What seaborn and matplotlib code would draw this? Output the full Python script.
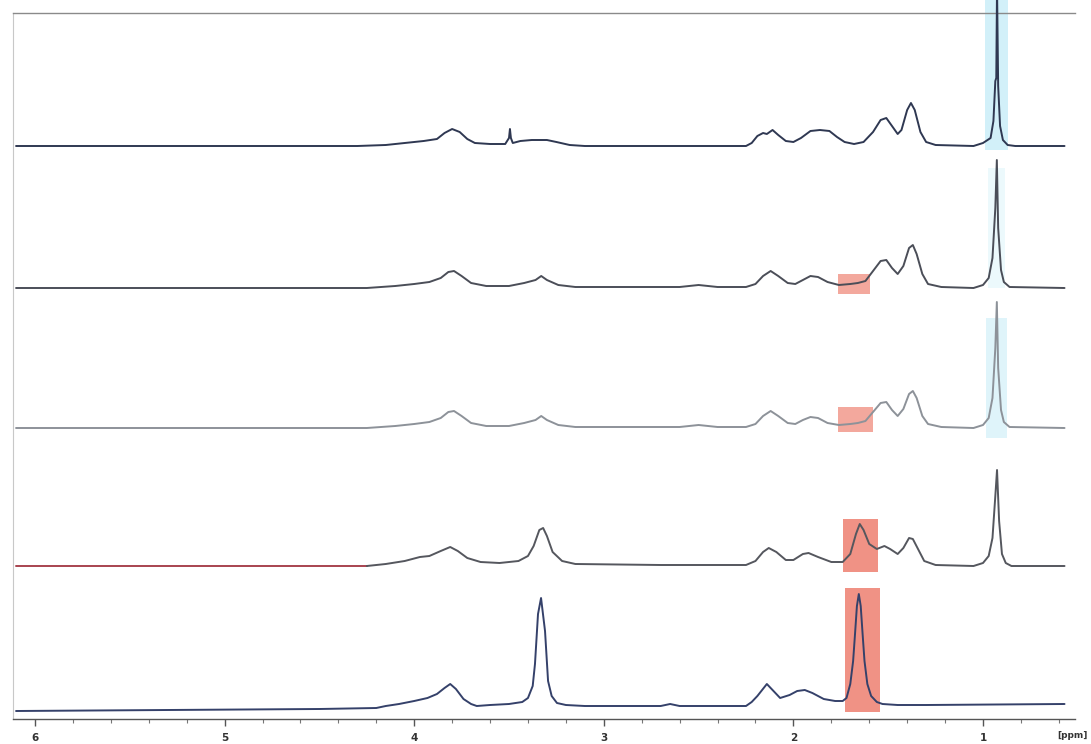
import matplotlib
matplotlib.use("Agg")
import matplotlib.pyplot as plt
from matplotlib.ticker import MultipleLocator
import numpy as np
import pandas as pd
import seaborn as sns

# ---------------- data (intensities above each trace's baseline) -------------
ppm_1 = [6.10, 4.30, 4.15, 4.05, 3.95, 3.88, 3.84, 3.80, 3.76, 3.72, 3.68, 3.60, 3.52, 3.50, 3.495, 3.49,
         3.48, 3.44, 3.38, 3.30, 3.25, 3.18, 3.10, 2.25, 2.22, 2.19, 2.16, 2.14, 2.11, 2.08, 2.04, 2.00,
         1.96, 1.91, 1.86, 1.81, 1.77, 1.73, 1.68, 1.63, 1.58, 1.54, 1.51, 1.48, 1.45, 1.43, 1.40, 1.38,
         1.36, 1.33, 1.30, 1.25, 1.05, 1.00, 0.96, 0.945, 0.935, 0.93, 0.926, 0.92, 0.91, 0.895, 0.87,
         0.83, 0.57]
int_1 = [0, 0, 1, 3, 5, 7, 13, 17, 14, 7, 3, 2, 2, 8, 17, 8,
         3, 5, 6, 6, 4, 1, 0, 0, 3, 10, 13, 12, 16, 11, 5, 4,
         8, 15, 16, 15, 9, 4, 2, 4, 14, 26, 28, 20, 12, 16, 36, 43,
         36, 14, 4, 1, 0, 3, 8, 25, 65, 68, 160, 60, 20, 6, 1,
         0, 0]

ppm_2 = [6.10, 4.25, 4.10, 4.00, 3.92, 3.86, 3.82, 3.79, 3.75, 3.70, 3.62, 3.50, 3.42, 3.36, 3.33, 3.30,
         3.24, 3.15, 2.60, 2.50, 2.40, 2.25, 2.20, 2.16, 2.12, 2.08, 2.03, 1.99, 1.95, 1.91, 1.87, 1.82,
         1.76, 1.70, 1.66, 1.62, 1.58, 1.54, 1.51, 1.48, 1.45, 1.42, 1.39, 1.37, 1.35, 1.32, 1.29, 1.22,
         1.05, 1.00, 0.97, 0.95, 0.935, 0.927, 0.92, 0.905, 0.89, 0.86, 0.57]
int_2 = [0, 0, 2, 4, 6, 10, 16, 17, 12, 5, 2, 2, 5, 8, 12, 8,
         3, 1, 1, 3, 1, 1, 4, 12, 17, 12, 5, 4, 8, 12, 11, 6,
         3, 4, 5, 7, 17, 27, 28, 20, 14, 22, 40, 43, 34, 14, 4, 1,
         0, 3, 10, 30, 80, 128, 60, 18, 6, 1, 0]

ppm_3 = [6.10, 4.25, 4.10, 4.00, 3.92, 3.86, 3.82, 3.79, 3.75, 3.70, 3.62, 3.50, 3.42, 3.36, 3.33, 3.30,
         3.24, 3.15, 2.60, 2.50, 2.40, 2.25, 2.20, 2.16, 2.12, 2.08, 2.03, 1.99, 1.95, 1.91, 1.87, 1.82,
         1.76, 1.70, 1.66, 1.62, 1.58, 1.54, 1.51, 1.48, 1.45, 1.42, 1.39, 1.37, 1.35, 1.32, 1.29, 1.22,
         1.05, 1.00, 0.97, 0.95, 0.935, 0.927, 0.92, 0.905, 0.89, 0.86, 0.57]
int_3 = [0, 0, 2, 4, 6, 10, 16, 17, 12, 5, 2, 2, 5, 8, 12, 8,
         3, 1, 1, 3, 1, 1, 4, 12, 17, 12, 5, 4, 8, 11, 10, 5,
         3, 4, 5, 7, 16, 25, 26, 18, 12, 19, 34, 37, 30, 12, 4, 1,
         0, 3, 10, 30, 80, 126, 60, 18, 6, 1, 0]

ppm_4 = [6.10, 4.25, 4.15, 4.05, 3.97, 3.92, 3.86, 3.81, 3.77, 3.72, 3.65, 3.55, 3.45, 3.40, 3.37, 3.34,
         3.32, 3.30, 3.27, 3.22, 3.15, 2.70, 2.25, 2.20, 2.16, 2.13, 2.09, 2.04, 2.00, 1.95, 1.92, 1.87,
         1.80, 1.74, 1.70, 1.67, 1.65, 1.63, 1.60, 1.56, 1.52, 1.49, 1.45, 1.42, 1.39, 1.37, 1.34, 1.31,
         1.25, 1.05, 1.00, 0.97, 0.95, 0.935, 0.926, 0.915, 0.90, 0.88, 0.85, 0.57]
int_4 = [0, 0, 2, 5, 9, 10, 15, 19, 15, 8, 4, 3, 5, 10, 20, 36,
         38, 30, 14, 5, 2, 1, 1, 5, 14, 18, 14, 6, 6, 12, 13, 9,
         4, 4, 12, 32, 42, 36, 22, 17, 20, 17, 12, 18, 28, 27, 16, 5,
         1, 0, 3, 10, 28, 70, 96, 45, 12, 3, 0, 0]

ppm_5 = [6.10, 4.50, 4.20, 4.15, 4.08, 4.00, 3.93, 3.88, 3.84, 3.81, 3.78, 3.74, 3.70, 3.67, 3.60, 3.50,
         3.43, 3.40, 3.375, 3.363, 3.347, 3.331, 3.31, 3.294, 3.275, 3.247, 3.20, 3.10, 2.70, 2.65, 2.60,
         2.25, 2.22, 2.19, 2.14, 2.10, 2.07, 2.02, 1.98, 1.94, 1.90, 1.84, 1.78, 1.74, 1.72, 1.70, 1.685,
         1.675, 1.665, 1.655, 1.645, 1.635, 1.625, 1.61, 1.59, 1.56, 1.53, 1.45, 1.30, 0.57]
int_5 = [-5, -3, -2, 0, 2, 5, 8, 12, 18, 22, 17, 7, 2, 0, 1, 2,
         4, 8, 20, 42, 92, 108, 75, 25, 10, 3, 1, 0, 0, 2, 0,
         0, 4, 10, 22, 14, 8, 11, 15, 16, 13, 7, 5, 5, 8, 22, 45,
         72, 100, 112, 100, 72, 45, 22, 10, 4, 2, 1, 1, 2]

trace_names = ["t1", "t2", "t3", "t4", "t5"]
tick_labels = ["6", "5", "4", "3", "2", "1"]
tick_values = [6, 5, 4, 3, 2, 1]

# highlighted regions: (trace, ppm_left, ppm_right, low, high) intensity relative to baseline
red_boxes = [("t2", 1.765, 1.596, -6, 14),
             ("t3", 1.765, 1.580, -4, 21),
             ("t4", 1.738, 1.555, -6, 47),
             ("t5", 1.728, 1.543, -6, 118)]
cyan_bands = [("t1", 0.99, 0.87, -4, 170, 0.85),
              ("t2", 0.975, 0.885, 0, 120, 0.35),
              ("t3", 0.985, 0.875, -10, 110, 0.6)]

# ---------------- layout / styling ----------------
W, H = 1091, 744
AX_L, AX_R, AX_T, AX_B = 13, 1075, 13, 719
PX_PER_PPM = 189.6
PPM_AT_35 = 6.0
baseline_px = {"t1": 146, "t2": 288, "t3": 428, "t4": 566, "t5": 706}
offset = {k: AX_B - v for k, v in baseline_px.items()}

colors = {"t1": "#2f3852", "t2": "#4b4e58", "t3": "#8d9299",
          "t4a": "#a8434f", "t4b": "#55575e", "t5": "#35416a"}

sns.set_theme(style="white")
plt.rcParams["font.family"] = ["DejaVu Sans"]

fig = plt.figure(figsize=(W / 100, H / 100), dpi=100)
ax = fig.add_axes([AX_L / W, (H - AX_B) / H, (AX_R - AX_L) / W, (AX_B - AX_T) / H])

rows = []
series = {"t1": (ppm_1, int_1), "t2": (ppm_2, int_2), "t3": (ppm_3, int_3),
          "t4": (ppm_4, int_4), "t5": (ppm_5, int_5)}
for name in trace_names:
    p, v = series[name]
    for i, (pp, vv) in enumerate(zip(p, v)):
        y = vv + offset[name]
        if name == "t4":
            if pp >= 4.25:
                rows.append({"seg": "t4a", "ppm": pp, "y": y})
            if pp <= 4.25:
                rows.append({"seg": "t4b", "ppm": pp, "y": y})
        else:
            rows.append({"seg": name, "ppm": pp, "y": y})
df = pd.DataFrame(rows)

# highlight boxes behind traces
for name, a, b, lo, hi in red_boxes:
    ax.fill_between([a, b], offset[name] + lo, offset[name] + hi, color="#ec6e5c",
                    alpha=0.75 if name in ("t4", "t5") else 0.6, lw=0, zorder=1)
for name, a, b, lo, hi, al in cyan_bands:
    ax.fill_between([a, b], offset[name] + lo, offset[name] + hi, color="#cbeef8",
                    alpha=al, lw=0, zorder=1, clip_on=False)

sns.lineplot(data=df, x="ppm", y="y", hue="seg", palette=colors, sort=False,
             estimator=None, units="seg", legend=False, linewidth=1.4, ax=ax, zorder=3)
for ln in ax.lines:
    ln.set_clip_on(False)
    ln.set_solid_joinstyle("round")

x_left = PPM_AT_35 + (35 - AX_L) / PX_PER_PPM
x_right = PPM_AT_35 - (AX_R - 35) / PX_PER_PPM
ax.set_xlim(x_left, x_right)
ax.set_ylim(0, AX_B - AX_T)

ax.set_xticks(tick_values)
ax.set_xticklabels(tick_labels, fontsize=7.5, fontweight="bold", color="#333333")
ax.xaxis.set_minor_locator(MultipleLocator(0.2))
ax.tick_params(axis="x", which="major", direction="out", length=5, width=1, color="#555555", pad=5, bottom=True)
ax.tick_params(axis="x", which="minor", direction="out", length=3, width=0.8, color="#777777", bottom=True)
ax.set_yticks([])
ax.set_xlabel("")
ax.set_ylabel("")

ax.spines["right"].set_visible(False)
ax.spines["top"].set_color("#8a8a8a")
ax.spines["top"].set_linewidth(1.0)
ax.spines["left"].set_color("#c8c8c8")
ax.spines["left"].set_linewidth(0.8)
ax.spines["bottom"].set_color("#555555")
ax.spines["bottom"].set_linewidth(1.0)
ax.set_facecolor("white")

fig.text(1088 / W, 1 - 735 / H, "[ppm]", fontsize=6.5, fontweight="bold", color="#333333",
         ha="right", va="center")

fig.savefig("out.png", dpi=100, facecolor="white")
